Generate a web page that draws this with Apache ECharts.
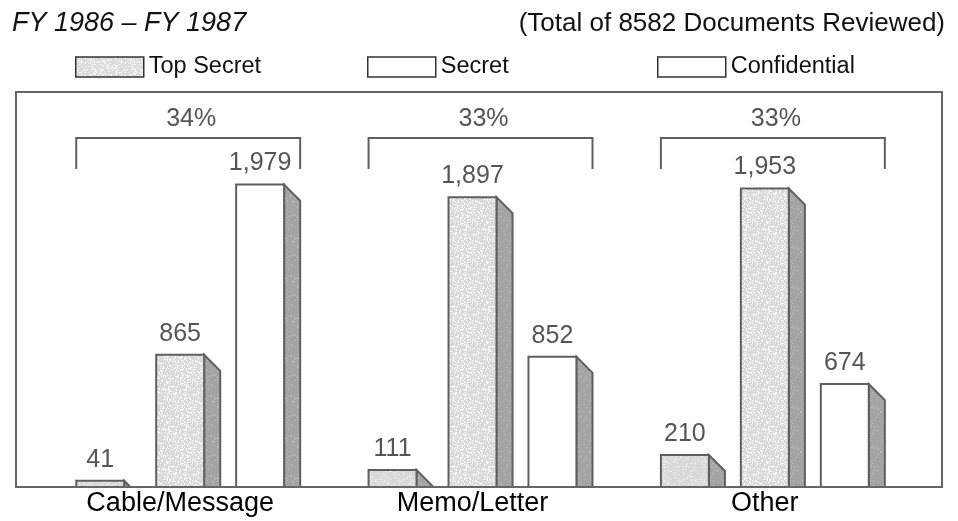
<!DOCTYPE html>
<html>
<head>
<meta charset="utf-8">
<title>Documents Reviewed FY 1986 – FY 1987</title>
<script src="https://cdn.jsdelivr.net/npm/echarts@6/dist/echarts.min.js"></script>
<style>
  html, body { margin: 0; padding: 0; background: #fff; }
  #chart { width: 958px; height: 521px; }
</style>
</head>
<body>
<div id="chart"></div>
<script>
// Document types reviewed
const categories = ['Cable/Message', 'Memo/Letter', 'Other'];
// Documents per classification level
const topSecret = [41, 111, 210];
const secret = [865, 1897, 1953];
const confidential = [1979, 852, 674];
// Share of all documents for each type
const shares = ['34%', '33%', '33%'];
const seriesNames = ['Top Secret', 'Secret', 'Confidential'];

const FONT = '"Liberation Sans", Arial, Helvetica, sans-serif';
const OUTLINE = '#5f5f5f';
const SIDE = '#a4a4a4';
const LABEL = '#555555';

// Small deterministic speckle tile used as a halftone-like fill
function speckle(base, dot, count, seed) {
  const c = document.createElement('canvas');
  c.width = 40; c.height = 40;
  const ctx = c.getContext('2d');
  ctx.fillStyle = base;
  ctx.fillRect(0, 0, 40, 40);
  let s = seed;
  const next = () => { s = (s * 1103515245 + 12345) % 2147483648; return s / 2147483648; };
  ctx.fillStyle = dot;
  for (let i = 0; i < count; i++) {
    ctx.fillRect(Math.floor(next() * 40), Math.floor(next() * 40), 1, 1);
  }
  return c;
}
const tsFill = { image: speckle('#d9d9d9', '#efefef', 260, 7), repeat: 'repeat' };
const sFill = { image: speckle('#dadada', '#ffffff', 420, 19), repeat: 'repeat' };
const cFill = '#ffffff';
const sideFill = { image: speckle(SIDE, '#bdbdbd', 120, 31), repeat: 'repeat' };
const fills = [tsFill, sFill, cFill];
const legendTile = { image: speckle('#dcdcdc', '#ffffff', 380, 43), repeat: 'repeat' };

// Layout of each bar inside its category band (fractions of the band)
const OFFSET = 0.2735, WIDTH = 0.164, DEPTH = 0.055;

const groups = [topSecret, secret, confidential];
const fmt = v => v.toLocaleString('en-US');

function barRenderer(slot) {
  return function (params, api) {
    const idx = api.value(0);
    const val = api.value(1);
    const base = api.coord([idx, 0]);
    const top = api.coord([idx, val]);
    const band = api.size([1, 0])[0];
    const cx = base[0] + (slot - 1) * band * OFFSET;
    const w = band * WIDTH;
    const d = band * DEPTH;
    const x0 = cx - w / 2, x1 = cx + w / 2;
    const y0 = top[1], yb = base[1];
    const drop = Math.min(d, yb - y0);
    const sidePts = drop < d
      ? [[x1, y0], [x1 + drop, yb], [x1, yb]]
      : [[x1, y0], [x1 + d, y0 + d], [x1 + d, yb], [x1, yb]];
    return {
      type: 'group',
      children: [
        { type: 'polygon', shape: { points: sidePts },
          style: { fill: sideFill, stroke: OUTLINE, lineWidth: 2, lineJoin: 'miter' } },
        { type: 'rect', shape: { x: x0, y: y0, width: w, height: yb - y0 },
          style: { fill: fills[slot], stroke: OUTLINE, lineWidth: 2 } },
        { type: 'text', x: cx, y: y0 - 21,
          style: { text: fmt(val), fill: LABEL, font: '25px ' + FONT,
                   align: 'center', verticalAlign: 'middle' } }
      ]
    };
  };
}

function bracketRenderer(params, api) {
  const idx = api.value(0);
  const base = api.coord([idx, 0]);
  const band = api.size([1, 0])[0];
  const left = base[0] - band * OFFSET - band * WIDTH / 2;
  const right = base[0] + band * OFFSET + band * WIDTH / 2 + band * DEPTH;
  const topY = params.coordSys.y + 46;
  const footY = topY + 31;
  return {
    type: 'group',
    children: [
      { type: 'polyline',
        shape: { points: [[left, footY], [left, topY], [right, topY], [right, footY]] },
        style: { stroke: OUTLINE, lineWidth: 2, fill: null } },
      { type: 'text', x: (left + right) / 2 + 3, y: topY - 19,
        style: { text: shares[params.dataIndex], fill: LABEL, font: '25px ' + FONT,
                 align: 'center', verticalAlign: 'middle' } }
    ]
  };
}

const chart = echarts.init(document.getElementById('chart'), null, { renderer: 'canvas' });

const legendSwatches = [
  { name: 'Top Secret', fill: legendTile, left: 70 },
  { name: 'Secret', fill: '#ffffff', left: 362 },
  { name: 'Confidential', fill: '#ffffff', left: 652 }
];

chart.setOption({
  animation: false,
  backgroundColor: '#ffffff',
  title: [
    { text: 'FY 1986 – FY 1987', left: 7, top: 5,
      textStyle: { fontFamily: FONT, fontStyle: 'italic', fontWeight: 'normal', fontSize: 27, color: '#111' } },
    { text: '(Total of 8582 Documents Reviewed)', right: 8, top: 6,
      textStyle: { fontFamily: FONT, fontWeight: 'normal', fontSize: 26, color: '#111' } }
  ],
  legend: legendSwatches.map(l => ({
    left: l.left, top: 50, icon: 'rect', itemWidth: 68, itemHeight: 20, itemGap: 0,
    selectedMode: false,
    textStyle: { fontFamily: FONT, fontSize: 23.5, color: '#111', padding: [5, 0, 0, 0] },
    data: [{ name: l.name, itemStyle: { color: l.fill, borderColor: '#333', borderWidth: 1.5 } }]
  })),
  graphic: [
    { type: 'rect', shape: { x: 16, y: 92, width: 926, height: 395 },
      style: { fill: null, stroke: '#666', lineWidth: 2 }, z: 10 }
  ],
  grid: { left: 34, right: 47, top: 92, bottom: 34, containLabel: false },
  xAxis: {
    type: 'category', data: categories,
    axisLine: { show: false }, axisTick: { show: false },
    axisLabel: { fontFamily: FONT, fontSize: 27, color: '#000', margin: 3 }
  },
  yAxis: {
    type: 'value', min: 0, max: 2585,
    show: false, splitLine: { show: false }
  },
  series: groups.map((vals, slot) => ({
    type: 'custom', name: seriesNames[slot],
    renderItem: barRenderer(slot),
    itemStyle: { color: slot === 0 ? '#d8d8d8' : '#ffffff' },
    encode: { x: 0, y: 1 },
    data: vals.map((v, i) => [i, v]),
    z: 2
  })).concat([{
    type: 'custom', name: 'share',
    renderItem: bracketRenderer,
    data: shares.map((s, i) => [i, 0]),
    z: 3
  }])
});
</script>
</body>
</html>
